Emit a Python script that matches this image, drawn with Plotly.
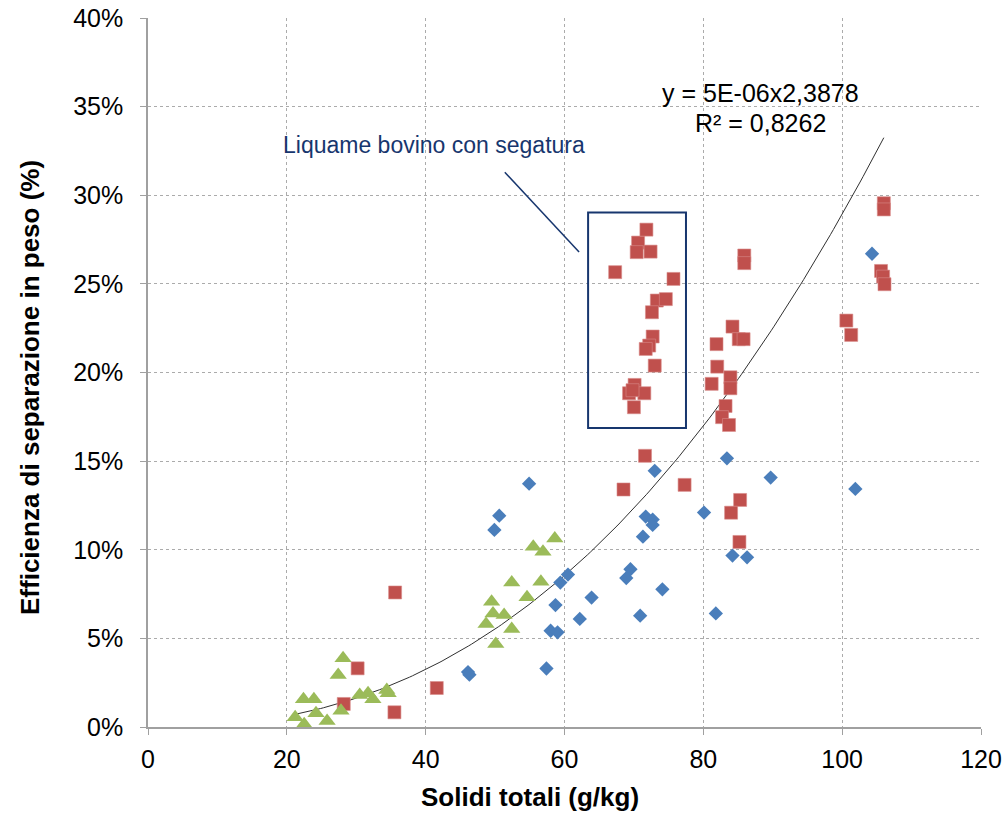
import numpy as np
import plotly.graph_objects as go

# ---- data ----
blue_x = [46.1, 46.3, 57.4, 58.0, 59.0, 58.7, 62.2, 63.9, 59.4, 60.5, 70.9, 68.9, 69.5, 74.1,
          81.8, 71.3, 71.7, 72.7, 72.7, 73.0, 80.1, 83.4, 84.2, 86.3, 89.7, 101.9, 104.3,
          49.9, 50.6, 54.9]
blue_y = [3.1, 2.95, 3.3, 5.43, 5.34, 6.88, 6.1, 7.3, 8.15, 8.6, 6.28, 8.4, 8.9, 7.77,
          6.41, 10.74, 11.87, 11.7, 11.4, 14.45, 12.1, 15.16, 9.67, 9.57, 14.07, 13.43, 26.7,
          11.12, 11.92, 13.73]

red_x = [28.2, 30.2, 35.5, 35.6, 41.6,
         67.3, 70.6, 70.4, 71.8, 72.4, 75.7, 73.3, 74.6, 72.6, 72.7, 72.2, 71.7, 73.0,
         70.1, 69.3, 71.5, 70.0, 69.8, 71.6, 68.5, 77.3,
         85.9, 85.9, 84.2, 85.1, 85.8, 81.9, 82.0, 83.9, 81.2, 83.9, 83.2, 82.7, 83.7,
         85.3, 84.0, 85.2, 100.6, 101.3, 105.6, 105.9, 106.1, 106.0, 106.0]
red_y = [1.3, 3.31, 0.83, 7.59, 2.2,
         25.66, 27.33, 26.79, 28.06, 26.82, 25.28, 24.06, 24.14, 23.4, 22.03, 21.52, 21.33, 20.39,
         19.3, 18.83, 18.83, 18.04, 19.0, 15.3, 13.4, 13.66,
         26.6, 26.17, 22.59, 21.88, 21.88, 21.6, 20.33, 19.73, 19.36, 19.11, 18.11, 17.48, 17.04,
         12.81, 12.09, 10.44, 22.93, 22.12, 25.73, 25.41, 24.98, 29.55, 29.2]

green_x = [21.2, 22.5, 22.4, 23.9, 24.2, 25.8, 27.4, 28.1, 27.8, 30.5, 31.7, 32.4, 34.4, 34.6,
           48.7, 49.5, 49.7, 50.1, 51.3, 52.4, 52.4, 54.6, 56.6, 55.5, 56.9, 58.6]
green_y = [0.55, 0.15, 1.56, 1.56, 0.77, 0.34, 2.93, 3.88, 0.92, 1.8, 1.9, 1.56, 2.09, 1.9,
           5.81, 7.07, 6.41, 4.68, 6.32, 5.53, 8.15, 7.32, 8.2, 10.17, 9.89, 10.64]

# power trendline y = a * x^b (fraction), shown as %
trend_a = 4.85e-06
trend_b = 2.3878
trend_range = [21.0, 106.0]
trend_line1 = "y = 5E-06x2,3878"
trend_line2 = "R² = 0,8262"

callout_text = "Liquame bovino con segatura"
box_x = [63.4, 77.5]
box_y = [16.87, 29.02]
callout_line = [(51.4, 31.3), (62.1, 26.8)]

x_ticks = [0, 20, 40, 60, 80, 100, 120]
y_ticks = [0, 5, 10, 15, 20, 25, 30, 35, 40]

FONT = "Liberation Sans, Arial, sans-serif"
NAVY = "#17366E"

fig = go.Figure()

tx = np.linspace(trend_range[0], trend_range[1], 200)
ty = 100 * trend_a * tx ** trend_b
fig.add_trace(go.Scatter(x=tx, y=ty, mode="lines",
                         line=dict(color="#303030", width=1), hoverinfo="skip",
                         showlegend=False))

fig.add_trace(go.Scatter(x=blue_x, y=blue_y, mode="markers", showlegend=False,
                         marker=dict(symbol="diamond", size=11, color="#4A7EBB",
                                     line=dict(width=0))))
fig.add_trace(go.Scatter(x=red_x, y=red_y, mode="markers", showlegend=False,
                         marker=dict(symbol="square", size=13, color="#C0504D",
                                     line=dict(width=0.6, color="#D98C8A"))))
fig.add_trace(go.Scatter(x=green_x, y=green_y, mode="markers", showlegend=False,
                         marker=dict(symbol="triangle-up", size=15, color="#9BBB59",
                                     line=dict(width=0))))

# callout box and line
fig.add_shape(type="rect", x0=box_x[0], x1=box_x[1], y0=box_y[0], y1=box_y[1],
              xref="x", yref="y", line=dict(color=NAVY, width=2))
fig.add_shape(type="line", x0=callout_line[0][0], y0=callout_line[0][1],
              x1=callout_line[1][0], y1=callout_line[1][1],
              xref="x", yref="y", line=dict(color=NAVY, width=1.5))

fig.add_annotation(x=41.2, y=32.85, xref="x", yref="y", text=callout_text,
                   showarrow=False, font=dict(family=FONT, size=23, color=NAVY),
                   xanchor="center", yanchor="middle")
fig.add_annotation(x=88.2, y=35.75, xref="x", yref="y", text=trend_line1,
                   showarrow=False, font=dict(family=FONT, size=25, color="#000000"),
                   xanchor="center", yanchor="middle")
fig.add_annotation(x=88.2, y=34.1, xref="x", yref="y", text=trend_line2,
                   showarrow=False, font=dict(family=FONT, size=25, color="#000000"),
                   xanchor="center", yanchor="middle")

# axis titles
fig.add_annotation(x=0.458, y=-0.099, xref="paper", yref="paper",
                   text="<b>Solidi totali (g/kg)</b>", showarrow=False,
                   font=dict(family=FONT, size=26, color="#000000"),
                   xanchor="center", yanchor="middle")
fig.add_annotation(x=-0.1417, y=0.4795, xref="paper", yref="paper",
                   text="<b>Efficienza di separazione in peso (%)</b>", showarrow=False,
                   textangle=-90, font=dict(family=FONT, size=26, color="#000000"),
                   xanchor="center", yanchor="middle")

axis_common = dict(showline=True, linecolor="#A0A0A0", linewidth=1.5,
                   ticks="outside", ticklen=6, tickcolor="#A0A0A0", tickwidth=1,
                   showgrid=True, gridcolor="#ABABAB", gridwidth=1, griddash="3px,3px",
                   zeroline=False, automargin=False,
                   tickfont=dict(family=FONT, size=25, color="#000000"))

fig.update_xaxes(range=[0, 120], tickvals=x_ticks, ticktext=[str(v) for v in x_ticks],
                 ticklabelstandoff=3, **axis_common)
fig.update_yaxes(range=[0, 40], tickvals=y_ticks, ticktext=[f"{v}%" for v in y_ticks],
                 ticklabelstandoff=12, **axis_common)

fig.update_layout(width=1005, height=814,
                  margin=dict(l=148, r=24, t=18, b=87),
                  plot_bgcolor="white", paper_bgcolor="white",
                  font=dict(family=FONT))

fig.write_html("out.html", config={"displayModeBar": False},
               post_script="document.body.style.margin='0';")
